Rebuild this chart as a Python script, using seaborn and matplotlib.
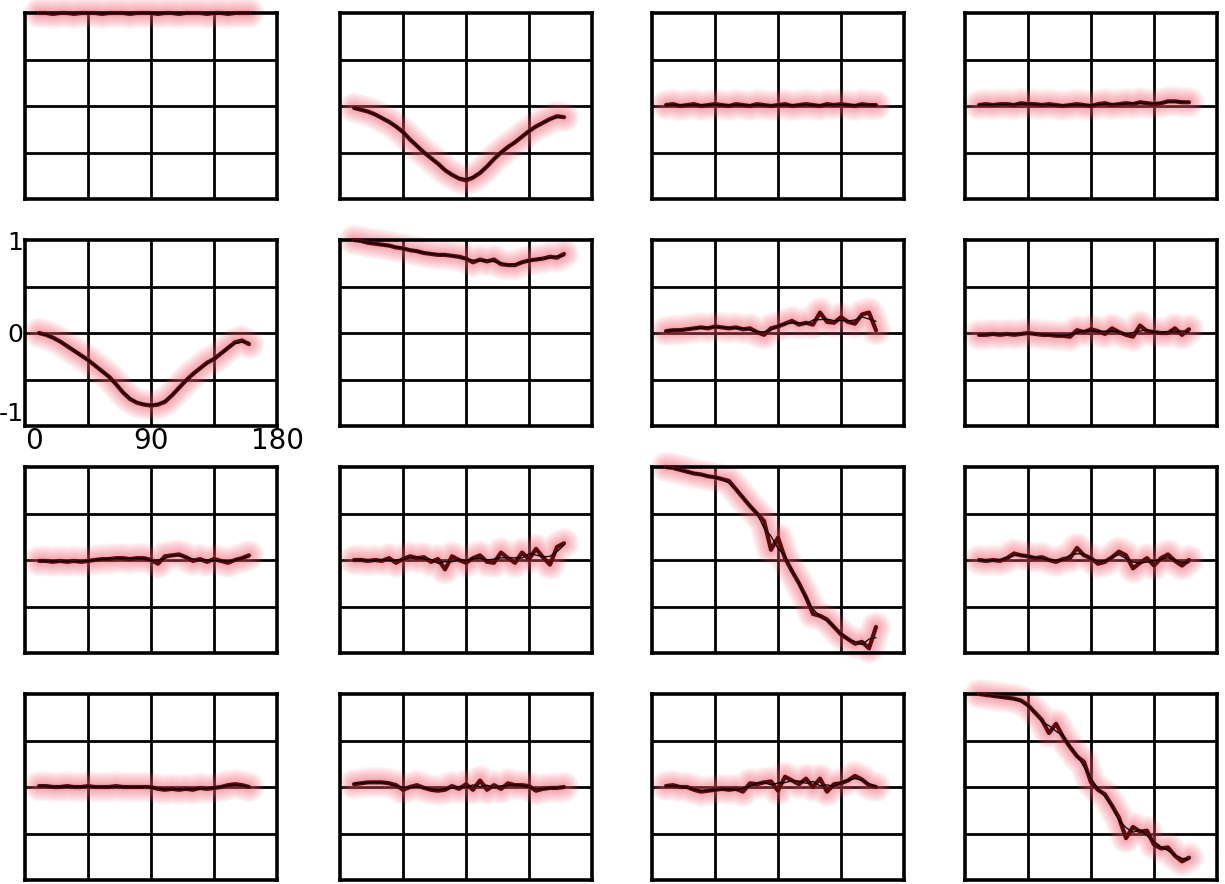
import matplotlib
matplotlib.use("Agg")
import matplotlib.pyplot as plt
import seaborn as sns
import pandas as pd

# angulos (grados) y curvas de correlacion por panel
angulos = [10, 15, 20, 25, 30, 35, 40, 45, 50, 55, 60, 65, 70, 75, 80, 85,
           90, 95, 100, 105, 110, 115, 120, 125, 130, 135, 140, 145, 150, 155, 160]

f1c1 = [1.0, 1.0, 0.99, 1.0, 1.0, 0.99, 1.0, 1.0, 1.0, 0.99, 1.0, 1.0, 1.0, 0.99, 1.0, 1.0,
        1.0, 0.99, 1.0, 1.0, 0.99, 1.0, 1.0, 1.0, 0.99, 1.0, 1.0, 0.99, 1.0, 1.0, 1.0]
f1c2 = [-0.02, -0.04, -0.06, -0.09, -0.13, -0.17, -0.22, -0.28, -0.36, -0.43, -0.5, -0.56, -0.62,
        -0.69, -0.74, -0.78, -0.8, -0.77, -0.72, -0.65, -0.57, -0.5, -0.44, -0.39, -0.33, -0.27,
        -0.22, -0.18, -0.14, -0.11, -0.12]
f1c3 = [0.01, 0.02, 0.0, 0.01, 0.02, 0.0, 0.01, 0.02, 0.01, 0.0, 0.02, 0.01, 0.0, 0.02, 0.01, 0.0,
        0.01, 0.02, 0.0, 0.01, 0.02, 0.01, 0.0, 0.02, 0.01, 0.02, 0.01, 0.0, 0.02, 0.01, 0.01]
f1c4 = [0.01, 0.02, 0.01, 0.02, 0.02, 0.01, 0.03, 0.02, 0.02, 0.01, 0.02, 0.01, 0.0, 0.01, 0.02, 0.01,
        0.0, 0.02, 0.03, 0.01, 0.02, 0.03, 0.02, 0.04, 0.03, 0.02, 0.03, 0.05, 0.05, 0.04, 0.04]

f2c1 = [0.0, -0.02, -0.05, -0.09, -0.14, -0.19, -0.24, -0.29, -0.35, -0.41, -0.47, -0.55, -0.64,
        -0.71, -0.75, -0.77, -0.78, -0.77, -0.74, -0.67, -0.59, -0.51, -0.44, -0.38, -0.32, -0.28,
        -0.22, -0.16, -0.1, -0.08, -0.12]
f2c2 = [1.0, 0.99, 0.97, 0.96, 0.95, 0.94, 0.92, 0.91, 0.89, 0.88, 0.86, 0.85, 0.84, 0.84, 0.83, 0.82,
        0.8, 0.76, 0.79, 0.77, 0.79, 0.74, 0.73, 0.73, 0.76, 0.78, 0.79, 0.8, 0.82, 0.81, 0.85]
f2c3 = [0.02, 0.03, 0.03, 0.04, 0.05, 0.06, 0.05, 0.07, 0.06, 0.05, 0.06, 0.04, 0.05, 0.01, -0.02, 0.05,
        0.07, 0.1, 0.13, 0.09, 0.11, 0.09, 0.22, 0.12, 0.11, 0.17, 0.12, 0.1, 0.2, 0.22, 0.03]
f2c4 = [-0.02, -0.02, -0.01, -0.02, -0.01, -0.02, -0.01, 0.0, -0.01, -0.02, -0.02, -0.03, -0.03, -0.04,
        0.03, 0.01, 0.04, 0.02, -0.01, 0.05, 0.01, -0.02, -0.04, 0.08, 0.02, 0.01, 0.0, 0.0, 0.05,
        -0.02, 0.04]

f3c1 = [-0.01, -0.01, -0.02, -0.01, -0.02, -0.01, -0.02, -0.01, 0.0, 0.01, 0.01, 0.02, 0.02, 0.01,
        0.02, 0.02, 0.0, -0.04, 0.04, 0.05, 0.06, 0.03, -0.01, 0.01, -0.02, 0.01, -0.01, -0.03, 0.0,
        0.02, 0.05]
f3c2 = [0.0, 0.0, -0.01, 0.0, -0.01, 0.02, -0.03, 0.01, 0.04, 0.02, 0.03, -0.02, 0.01, -0.1, 0.04, 0.0,
        -0.03, 0.02, 0.05, -0.02, -0.03, 0.08, 0.02, -0.03, 0.08, 0.01, 0.12, 0.03, -0.05, 0.14, 0.18]
f3c3 = [1.0, 0.99, 0.97, 0.95, 0.93, 0.92, 0.9, 0.89, 0.87, 0.85, 0.76, 0.67, 0.58, 0.5, 0.42, 0.11,
        0.24, 0.02, -0.12, -0.25, -0.4, -0.58, -0.6, -0.64, -0.72, -0.8, -0.85, -0.9, -0.88, -0.95, -0.72]
f3c4 = [0.0, -0.01, 0.0, -0.01, 0.02, 0.07, 0.05, 0.04, 0.02, 0.03, 0.0, -0.02, 0.01, 0.02, 0.13, 0.05,
        0.02, -0.04, -0.02, 0.03, 0.09, 0.05, -0.09, -0.03, 0.02, -0.06, 0.02, 0.06, -0.01, -0.06, 0.0]

f4c1 = [0.01, 0.01, 0.0, 0.0, 0.01, 0.0, 0.0, 0.01, 0.0, 0.0, 0.0, 0.01, 0.0, 0.0, 0.0, 0.0,
        0.0, -0.02, -0.03, -0.02, -0.03, -0.02, -0.03, -0.01, -0.02, -0.01, 0.0, 0.02, 0.03, 0.02, 0.0]
f4c2 = [0.03, 0.04, 0.05, 0.05, 0.05, 0.04, 0.02, -0.03, 0.0, 0.02, -0.01, -0.03, -0.04, -0.03, 0.01,
        -0.02, 0.03, -0.03, 0.07, -0.03, 0.02, -0.02, 0.04, 0.02, 0.02, 0.01, -0.04, -0.02, -0.01,
        -0.01, 0.0]
f4c3 = [0.01, 0.02, 0.0, 0.0, -0.03, -0.05, -0.04, -0.03, -0.02, -0.03, -0.02, -0.05, 0.04, 0.03, 0.05,
        0.06, -0.04, 0.11, 0.07, 0.03, 0.09, 0.0, 0.09, -0.05, 0.03, 0.04, 0.07, 0.12, 0.08, 0.02, 0.0]
f4c4 = [1.0, 0.99, 0.98, 0.97, 0.96, 0.95, 0.93, 0.88, 0.8, 0.72, 0.58, 0.68, 0.54, 0.43, 0.33, 0.27,
        0.05, -0.03, -0.08, -0.2, -0.33, -0.55, -0.43, -0.48, -0.47, -0.62, -0.66, -0.65, -0.74, -0.8,
        -0.76]

paneles = [[f1c1, f1c2, f1c3, f1c4],
           [f2c1, f2c2, f2c3, f2c4],
           [f3c1, f3c2, f3c3, f3c4],
           [f4c1, f4c2, f4c3, f4c4]]

W, H = 1225, 884
izq = [25, 340, 652, 965]
arriba = [13, 240, 467, 694]
ancho, alto = 252, 186

sns.set_style("white")
plt.rcParams["font.family"] = ["DejaVu Sans"]
fig = plt.figure(figsize=(W / 100, H / 100), dpi=100)

for i in range(4):
    for j in range(4):
        ax = fig.add_axes([izq[j] / W, 1 - (arriba[i] + alto) / H, ancho / W, alto / H])
        ax.set_xlim(0, 180)
        ax.set_ylim(-1, 1)

        # cuadricula 4x4
        for xv in [45, 90, 135]:
            ax.axvline(xv, color="black", linewidth=2, zorder=1)
        for yv in [-0.5, 0, 0.5]:
            ax.axhline(yv, color="black", linewidth=2, zorder=1)
        for s in ax.spines.values():
            s.set_color("black")
            s.set_linewidth(2.6)
            s.set_visible(True)

        df = pd.DataFrame({"ang": angulos, "r": paneles[i][j]})
        df["suave"] = df["r"].rolling(3, center=True, min_periods=1).mean()

        # brillo rosado difuso (capas finas para simular desenfoque)
        for lw in [22, 20, 18, 16, 14, 12, 10, 8, 6, 4]:
            sns.lineplot(data=df, x="ang", y="r", ax=ax, color="#f05a6c", linewidth=lw,
                         alpha=0.065, solid_capstyle="round", solid_joinstyle="round",
                         clip_on=False, zorder=2)
        sns.lineplot(data=df, x="ang", y="r", ax=ax, color="#5a0a0c", linewidth=3,
                     solid_capstyle="round", clip_on=False, zorder=3)
        sns.lineplot(data=df, x="ang", y="suave", ax=ax, color="black", linewidth=0.9,
                     clip_on=False, zorder=4)

        ax.set_xlabel("")
        ax.set_ylabel("")
        if i == 1 and j == 0:
            ax.set_xticks([0, 90, 180], labels=["0", "90", "180"])
            ax.set_yticks([-1, 0, 1], labels=["-1", "0", "1"])
            ax.tick_params(axis="x", length=0, labelsize=20, pad=1, labelcolor="black")
            ax.tick_params(axis="y", length=0, labelsize=18, pad=1, labelcolor="black")
            ax.get_xticklabels()[0].set_horizontalalignment("left")
            ax.get_yticklabels()[0].set_verticalalignment("bottom")
        else:
            ax.set_xticks([])
            ax.set_yticks([])

fig.savefig("out.png", dpi=100)
